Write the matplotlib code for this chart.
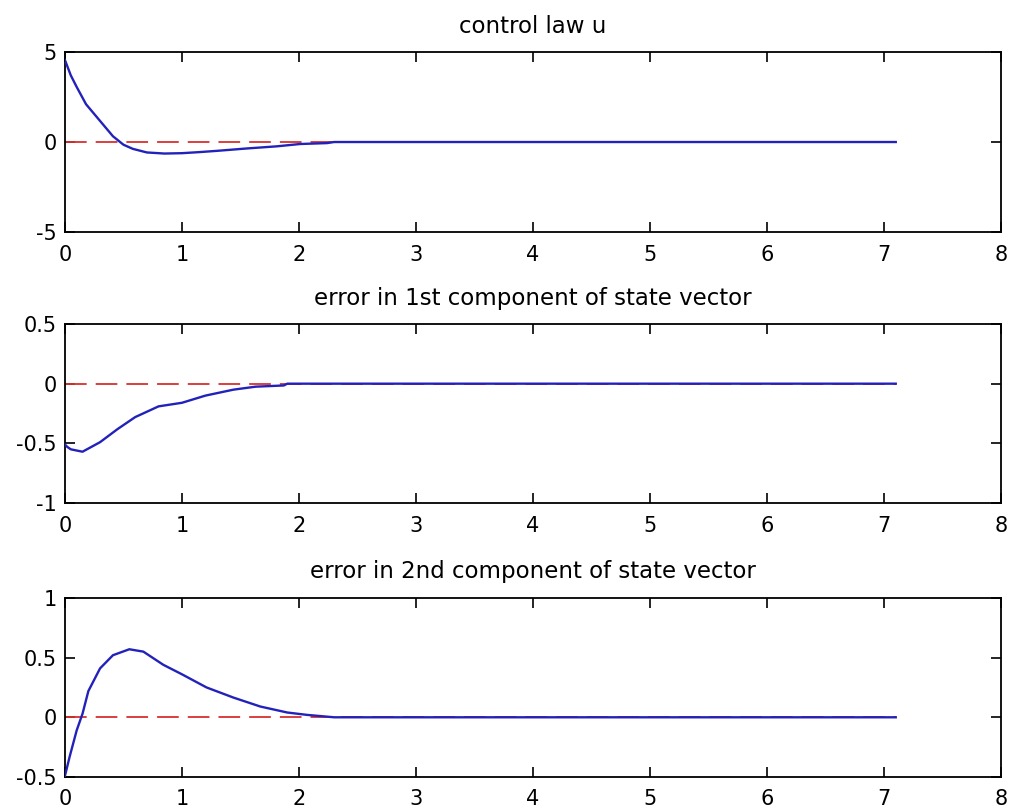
import matplotlib
matplotlib.use("Agg")
import matplotlib.pyplot as plt
import numpy as np

plt.rcParams['font.family'] = ['DejaVu Sans']

# --- data ---
t_u = [0.0, 0.05, 0.1, 0.18, 0.3, 0.41, 0.5, 0.58, 0.7, 0.85, 1.0, 1.15, 1.3, 1.55, 1.81, 2.01, 2.24, 2.3, 7.1]
u = [4.55, 3.7, 3.06, 2.1, 1.17, 0.32, -0.15, -0.38, -0.58, -0.64, -0.62, -0.56, -0.49, -0.36, -0.24, -0.11, -0.06, 0.0, 0.0]

t_e1 = [0.0, 0.02, 0.05, 0.15, 0.3, 0.45, 0.6, 0.8, 1.0, 1.2, 1.44, 1.63, 1.87, 1.9, 7.1]
e1 = [-0.51, -0.53, -0.55, -0.57, -0.49, -0.38, -0.28, -0.19, -0.16, -0.10, -0.05, -0.025, -0.015, 0.0, 0.0]

t_e2 = [0.0, 0.04, 0.1, 0.15, 0.2, 0.3, 0.41, 0.55, 0.67, 0.84, 1.0, 1.21, 1.44, 1.67, 1.9, 2.07, 2.3, 7.1]
e2 = [-0.49, -0.33, -0.11, 0.03, 0.22, 0.41, 0.52, 0.57, 0.55, 0.44, 0.36, 0.25, 0.165, 0.09, 0.04, 0.02, 0.0, 0.0]

ref_t = [0.0, 7.1]
ref_v = [0.0, 0.0]

titles = ["control law u",
          "error in 1st component of state vector",
          "error in 2nd component of state vector"]
ylims = [(-5, 5), (-1, 0.5), (-0.5, 1)]
yticks = [[-5, 0, 5], [-1, -0.5, 0, 0.5], [-0.5, 0, 0.5, 1]]
ytl = [["-5", "0", "5"], ["-1", "-0.5", "0", "0.5"], ["-0.5", "0", "0.5", "1"]]
xticks = list(range(0, 9))

series = [(t_u, u), (t_e1, e1), (t_e2, e2)]

fig = plt.figure(figsize=(10.12, 8.09), dpi=100)
positions = [
    [0.0642, 0.7132, 0.925, 0.2225],
    [0.0642, 0.3782, 0.925, 0.2213],
    [0.0642, 0.0396, 0.925, 0.2213],
]

for i in range(3):
    ax = fig.add_axes(positions[i])
    ax.plot(ref_t, ref_v, color='#d83030', linestyle=(0, (12, 5)), linewidth=1.3, zorder=2)
    tt, yy = series[i]
    ax.plot(tt, yy, color='#2222bb', linewidth=1.7, zorder=3)
    ax.set_xlim(0, 8)
    ax.set_ylim(*ylims[i])
    ax.set_xticks(xticks)
    ax.set_xticklabels([str(x) for x in xticks])
    ax.set_yticks(yticks[i])
    ax.set_yticklabels(ytl[i])
    ax.tick_params(direction='in', top=True, right=True, length=7, width=1.2,
                   labelsize=15, pad=6, colors='black')
    ax.tick_params(axis='x', pad=9)
    for s in ax.spines.values():
        s.set_linewidth(1.3)
    ax.set_title(titles[i], fontsize=16.5, pad=14)

fig.savefig("out.png", dpi=100)
